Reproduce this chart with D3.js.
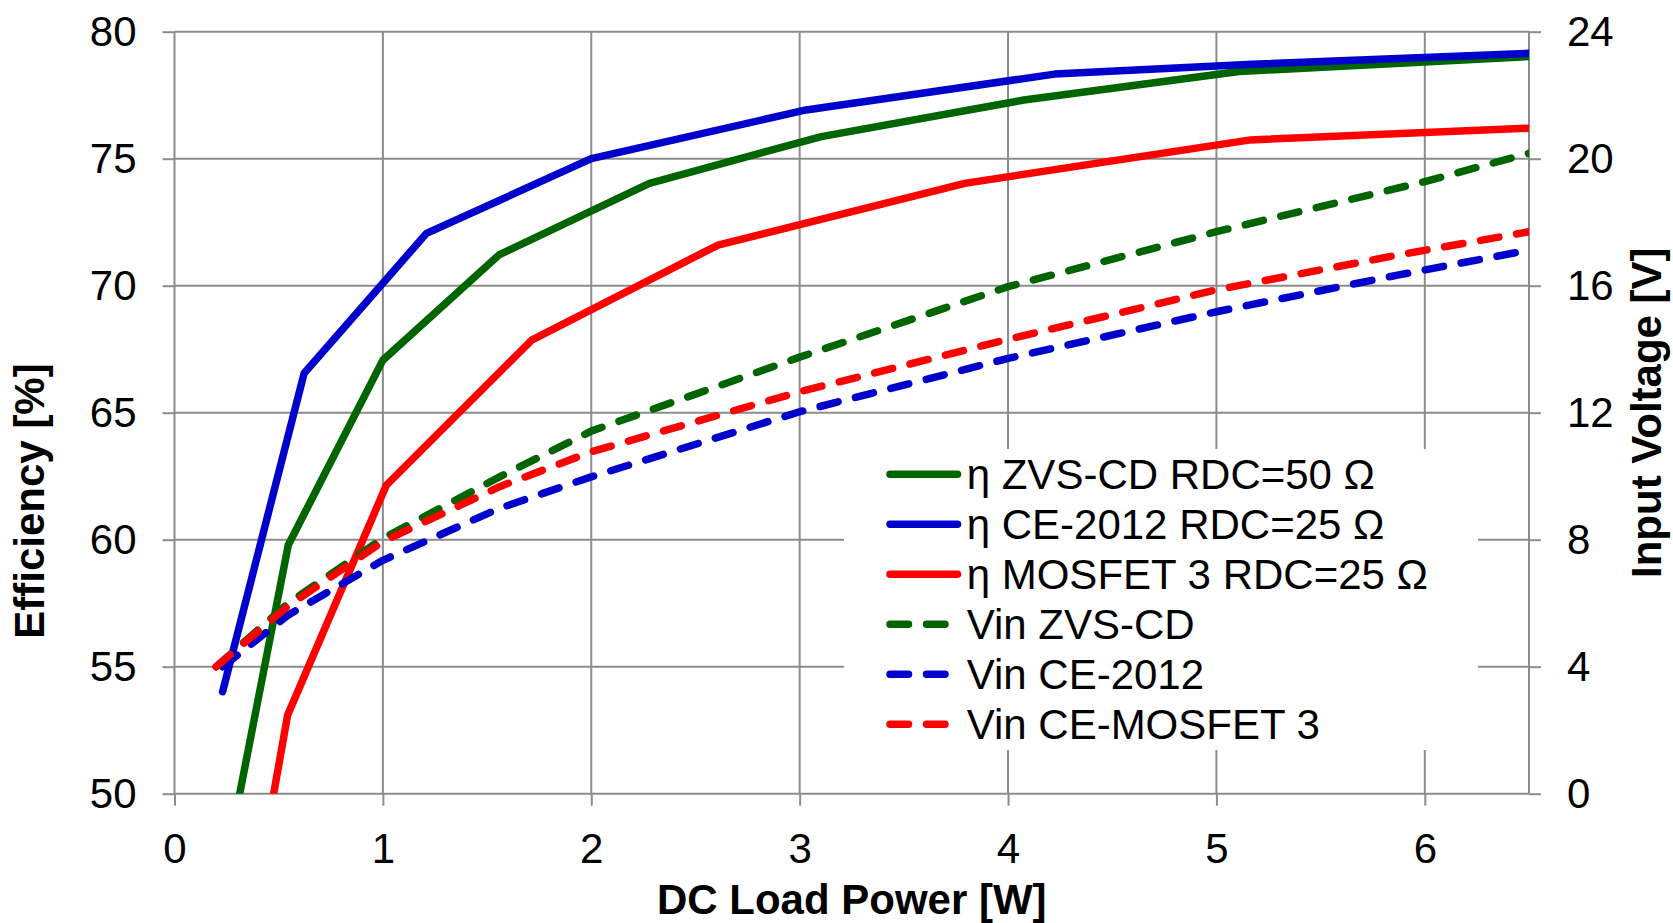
<!DOCTYPE html>
<html>
<head>
<meta charset="utf-8">
<script src="https://cdn.jsdelivr.net/npm/d3@7"></script>
<style>
  body { margin: 0; background: #fff; }
  svg text { font-family: "Liberation Sans", Arial, sans-serif; fill: #000; }
</style>
</head>
<body>
<svg class="chart"></svg>
<script>
// Efficiency and input voltage vs DC load power

// Efficiency [%] curves (solid), left axis
var effZvsX = [0.27, 0.546, 1.0, 1.557, 2.279, 3.104, 4.076, 5.108, 6.5];
var effZvsY = [48.2, 59.79, 67.07, 71.21, 74.03, 75.87, 77.31, 78.43, 79.02];
var effCeX = [0.231, 0.622, 1.209, 2.0, 3.031, 4.223, 5.17, 6.5];
var effCeY = [54.02, 66.55, 72.06, 75.0, 76.92, 78.33, 78.72, 79.15];
var effMosX = [0.45, 0.543, 1.017, 1.714, 2.608, 3.792, 5.164, 6.5];
var effMosY = [48.8, 53.1, 62.15, 67.86, 71.6, 74.03, 75.74, 76.2];

// Input voltage [V] curves (dashed), right axis
var vinZvsX = [0.2, 0.546, 1.0, 1.56, 2.0, 3.0, 4.0, 5.0, 6.0, 6.5];
var vinZvsY = [4.0, 6.0, 8.04, 9.98, 11.42, 13.75, 15.97, 17.7, 19.28, 20.17];
var vinCeX = [0.231, 0.546, 1.0, 1.56, 2.0, 3.0, 4.0, 5.0, 5.875, 6.5];
var vinCeY = [4.0, 5.63, 7.35, 8.99, 9.98, 12.03, 13.71, 15.18, 16.34, 17.12];
var vinMosX = [0.2, 0.546, 1.0, 1.56, 2.0, 3.0, 4.0, 5.0, 5.875, 6.5];
var vinMosY = [4.0, 5.92, 7.94, 9.67, 10.77, 12.66, 14.31, 15.87, 16.97, 17.7];

var seriesNames = ["η ZVS-CD RDC=50 Ω", "η CE-2012 RDC=25 Ω", "η MOSFET 3 RDC=25 Ω",
                   "Vin ZVS-CD", "Vin CE-2012", "Vin CE-MOSFET 3"];

var xTicks = [0, 1, 2, 3, 4, 5, 6];
var effTicks = [50, 55, 60, 65, 70, 75, 80];
var vinTicks = [0, 4, 8, 12, 16, 20, 24];

// colours
var cGreen = "#006400", cBlue = "#0000cc", cRed = "#ff0000", cGrid = "#8c8c8c";

var series = [
  { name: seriesNames[0], xs: effZvsX, ys: effZvsY, axis: "eff", color: cGreen, dash: false },
  { name: seriesNames[1], xs: effCeX,  ys: effCeY,  axis: "eff", color: cBlue,  dash: false },
  { name: seriesNames[2], xs: effMosX, ys: effMosY, axis: "eff", color: cRed,   dash: false },
  { name: seriesNames[3], xs: vinZvsX, ys: vinZvsY, axis: "vin", color: cGreen, dash: true },
  { name: seriesNames[4], xs: vinCeX,  ys: vinCeY,  axis: "vin", color: cBlue,  dash: true },
  { name: seriesNames[5], xs: vinMosX, ys: vinMosY, axis: "vin", color: cRed,   dash: true }
];

// chart size
var W = 1673, H = 923;
var margin = { top: 31.7, right: 144, left: 174.5, bottom: 129.3 };
var width = W - margin.left - margin.right;
var height = H - margin.top - margin.bottom;
var fontSize = 42;
var lineW = 7.5;
var dashes = "18.5,18";

var svg = d3.select(".chart")
  .attr("width", W)
  .attr("height", H);

var chart = svg.append("g")
  .attr("transform", "translate(" + margin.left + "," + margin.top + ")");

var x = d3.scaleLinear().domain([0, 6.5]).range([0, width]);
var yEff = d3.scaleLinear().domain([50, 80]).range([height, 0]);
var yVin = d3.scaleLinear().domain([0, 24]).range([height, 0]);

// grid lines
chart.append("g").selectAll("line")
  .data(effTicks)
  .enter().append("line")
  .attr("x1", 0).attr("x2", width)
  .attr("y1", function(d) { return yEff(d); })
  .attr("y2", function(d) { return yEff(d); })
  .attr("stroke", cGrid).attr("stroke-width", 2);
chart.append("g").selectAll("line")
  .data(xTicks.concat([6.5]))
  .enter().append("line")
  .attr("x1", function(d) { return x(d); })
  .attr("x2", function(d) { return x(d); })
  .attr("y1", 0).attr("y2", height)
  .attr("stroke", cGrid).attr("stroke-width", 2);

// axes (ticks + labels)
function styleAxis(g) {
  g.select(".domain").remove();
  g.selectAll(".tick line").attr("stroke", cGrid).attr("stroke-width", 2);
  g.selectAll(".tick text")
    .attr("font-size", fontSize)
    .attr("font-family", "Liberation Sans, Arial, sans-serif")
    .attr("fill", "#000");
}

chart.append("g")
  .attr("transform", "translate(0," + height + ")")
  .call(d3.axisBottom(x).tickValues(xTicks).tickSize(12).tickPadding(27).tickFormat(d3.format("d")))
  .call(styleAxis);

chart.append("g")
  .call(d3.axisLeft(yEff).tickValues(effTicks).tickSize(12).tickPadding(26).tickFormat(d3.format("d")))
  .call(styleAxis);

chart.append("g")
  .attr("transform", "translate(" + width + ",0)")
  .call(d3.axisRight(yVin).tickValues(vinTicks).tickSize(12).tickPadding(26).tickFormat(d3.format("d")))
  .call(styleAxis);

// clip to plot area
chart.append("clipPath").attr("id", "plotClip")
  .append("rect").attr("width", width).attr("height", height);

var plot = chart.append("g").attr("clip-path", "url(#plotClip)");

series.forEach(function(s) {
  var yS = s.axis === "eff" ? yEff : yVin;
  var pts = s.xs.map(function(v, i) { return [v, s.ys[i]]; });
  var line = d3.line()
    .x(function(d) { return x(d[0]); })
    .y(function(d) { return yS(d[1]); });
  plot.append("path")
    .datum(pts)
    .attr("d", line)
    .attr("fill", "none")
    .attr("stroke", s.color)
    .attr("stroke-width", lineW)
    .attr("stroke-linejoin", "round")
    .attr("stroke-linecap", "round")
    .attr("stroke-dasharray", s.dash ? dashes : null);
});

// legend
var legend = svg.append("g");
legend.append("rect")
  .attr("x", 844).attr("y", 449)
  .attr("width", 634).attr("height", 301)
  .attr("fill", "#fff");

var legendItem = legend.selectAll(".item")
  .data(series)
  .enter().append("g")
  .attr("class", "item")
  .attr("transform", function(d, i) { return "translate(890," + (474.3 + i * 50) + ")"; });

legendItem.append("line")
  .attr("x1", 0).attr("x2", 67.5)
  .attr("y1", 0).attr("y2", 0)
  .attr("stroke", function(d) { return d.color; })
  .attr("stroke-width", lineW)
  .attr("stroke-linecap", "round")
  .attr("stroke-dasharray", function(d) { return d.dash ? dashes : null; });

legendItem.append("text")
  .attr("x", 76.7)
  .attr("y", 15)
  .attr("font-size", fontSize)
  .text(function(d) { return d.name; });

// axis titles
svg.append("text")
  .attr("x", margin.left + width / 2)
  .attr("y", 914)
  .attr("text-anchor", "middle")
  .attr("font-size", fontSize)
  .attr("font-weight", "bold")
  .text("DC Load Power [W]");

svg.append("text")
  .attr("transform", "translate(44,501) rotate(-90)")
  .attr("text-anchor", "middle")
  .attr("font-size", fontSize)
  .attr("font-weight", "bold")
  .text("Efficiency [%]");

svg.append("text")
  .attr("transform", "translate(1661," + (margin.top + height / 2) + ") rotate(-90)")
  .attr("text-anchor", "middle")
  .attr("font-size", fontSize)
  .attr("font-weight", "bold")
  .text("Input Voltage [V]");
</script>
</body>
</html>
